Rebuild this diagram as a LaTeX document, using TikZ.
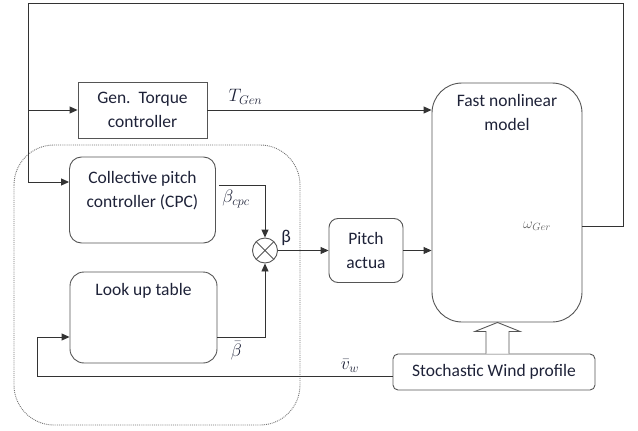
\documentclass[tikz,border=0pt]{standalone}
\usepackage{fix-cm}
\usepackage{fontspec}
\setmainfont{Carlito}
\usetikzlibrary{positioning, arrows.meta, calc}
\definecolor{wtInk}{HTML}{1E2238}
\definecolor{wtLine}{HTML}{333333}
\definecolor{wtEdge}{HTML}{555555}
\tikzset{
  wt/.style={x=1pt, y=-1pt, font=\fontsize{17.5}{24}\selectfont, color=wtLine, text=wtInk, line width=0.9pt},
  box/.style={draw=wtEdge, align=center, inner sep=2pt},
  sumjoint/.style={draw=wtEdge, circle, minimum size=25pt, inner sep=0pt,
    path picture={\draw (path picture bounding box.north west) -- (path picture bounding box.south east)
      (path picture bounding box.south west) -- (path picture bounding box.north east);}},
  group/.style={draw=black!55, densely dotted, rounded corners=40pt},
  hollow/.style={draw=wtEdge, fill=white},
  arr/.style={-{Triangle[length=8pt, width=7pt]}},
  sig/.style={font=\fontsize{18}{20}\selectfont, inner sep=1pt},
}
\begin{document}
\begin{tikzpicture}[
  wt,
]
\useasboundingbox (0,0) rectangle (638,431);
\draw[group] (14,145) rectangle (300,425);

\node[box, minimum width=129pt, minimum height=56pt] (gen) at (142.5,110) {Gen.\ \ Torque\\controller};
\node[box, rounded corners=12pt, minimum width=146pt, minimum height=86pt,
  label={[anchor=north, yshift=-11pt, align=center]north:Collective pitch\\controller (CPC)}] (cpc) at (142.5,200) {};
\node[box, rounded corners=14pt, minimum width=147pt, minimum height=91pt,
  label={[anchor=north, yshift=-8pt]north:Look up table}] (lut) at (143.5,317.5) {};
\node[sumjoint] (sum) at (265,250.5) {};
\node[box, rounded corners=9pt, minimum width=74pt, minimum height=64pt] (pitch) at (366,250.5) {Pitch\\actua};
\node[box, rounded corners=30pt, minimum width=150pt, minimum height=239pt,
  label={[anchor=north, yshift=-8pt, align=center]north:Fast nonlinear\\model}] (model) at (507,202.5) {};
\node[box, rounded corners=5pt, minimum width=202pt, minimum height=36pt] (wind) at (494,372) {Stochastic Wind profile};

\coordinate (topR) at (623,3);
\coordinate (topL) at (28,3);
\draw[arr] ($(model.east)+(0,23.5)$) node[sig, anchor=east, xshift=-30pt, text=black!60, font=\fontsize{15}{18}\selectfont] {$\omega_{Ger}$}
  -| (topR) -- (topL) |- ($(cpc.west)+(0,-18)$);
\draw[arr] (topL |- gen.west) -- (gen.west);
\draw[arr] (gen.east) -- node[sig, pos=0.17, above, yshift=4pt] {$T_{Gen}$} (gen.east -| model.west);

\draw[arr] ($(cpc.east)+(3,-15)$) node[sig, anchor=north west, yshift=-4pt, xshift=2pt] {$\beta_{cpc}$} -| (sum.north);
\draw[arr] ($(lut.east)+(0,19.5)$) node[sig, anchor=north west, xshift=12pt, yshift=-3pt] {$\bar{\beta}$} -| (sum.south);
\draw[arr] (sum.east) -- node[sig, at start, anchor=south west, yshift=3pt, xshift=2pt] {β} (sum.east -| pitch.west);
\draw[arr] (pitch.east) -- (pitch.east -| model.west);
\draw[arr] ($(wind.west)+(0,4)$) -| node[sig, pos=0.06, above, yshift=2pt] {$\bar{v}_w$} ($(lut.west)+(-32,19.5)$) -- ($(lut.west)+(0,19.5)$);

\coordinate (wa) at ($(wind.north)+(3.5,0)$);
\draw[hollow] ($(wa)+(-11.5,0)$) -- ($(wa |- model.south)+(-11.5,9)$) -- ($(wa |- model.south)+(-22.5,9)$)
  -- (wa |- model.south) -- ($(wa |- model.south)+(22.5,9)$) -- ($(wa |- model.south)+(11.5,9)$) -- ($(wa)+(11.5,0)$);
\end{tikzpicture}
\end{document}
